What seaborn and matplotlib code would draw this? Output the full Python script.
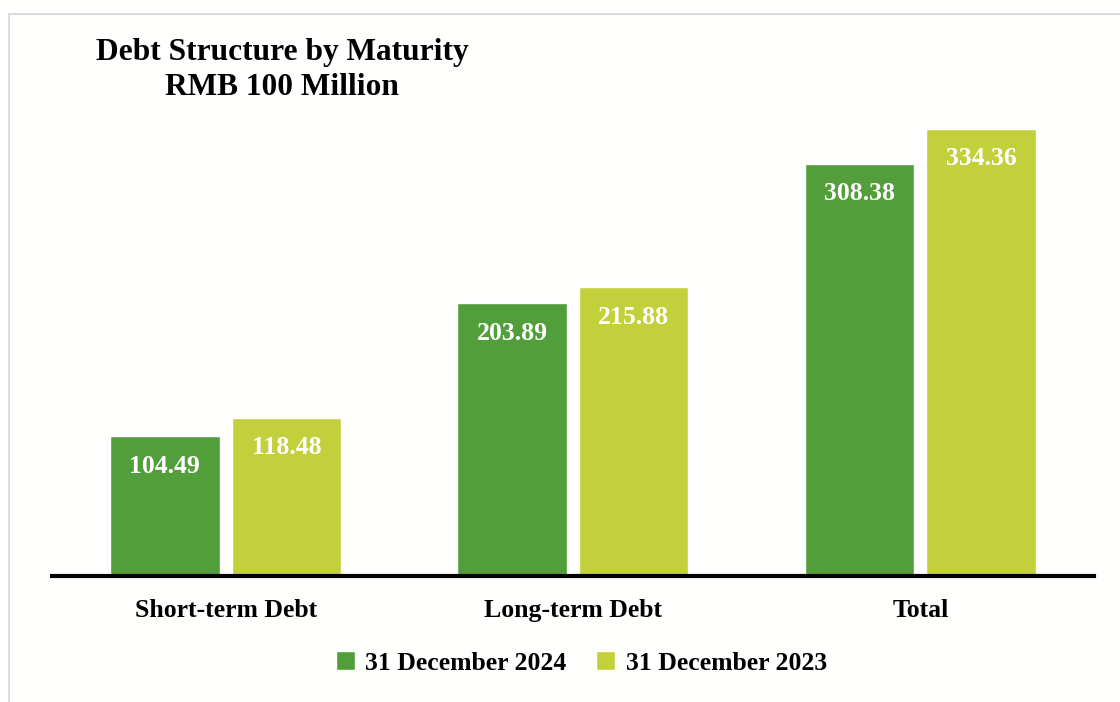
import matplotlib
matplotlib.use("Agg")
import matplotlib.pyplot as plt
import seaborn as sns
import pandas as pd
from matplotlib.patches import Rectangle

categories = ["Short-term Debt", "Long-term Debt", "Total"]
series_names = ["31 December 2024", "31 December 2023"]
values_2024 = [104.49, 203.89, 308.38]
values_2023 = [118.48, 215.88, 334.36]
colors = ["#529e3a", "#c2d03b"]

df = pd.DataFrame({
    "category": categories * 2,
    "period": [series_names[0]] * 3 + [series_names[1]] * 3,
    "value": values_2024 + values_2023,
})

sns.set_style("white")
plt.rcParams["font.family"] = ["Liberation Serif", "DejaVu Serif"]
plt.rcParams["text.color"] = "black"
plt.rcParams["xtick.color"] = "black"

fig = plt.figure(figsize=(11.2, 7.02), dpi=100)
fig.patch.set_facecolor("#fffffd")
ax = fig.add_axes([0.0464, 0.1795, 0.9304, 0.678])
ax.set_facecolor("none")

sns.barplot(data=df, x="category", y="value", hue="period", palette=colors,
            width=0.7, gap=0.1, saturation=1, ax=ax, legend=True)

for container in ax.containers:
    labels = [f"{v:.2f}" for v in container.datavalues]
    for bar, lab in zip(container, labels):
        ax.annotate(lab, (bar.get_x() + bar.get_width() / 2, bar.get_height()),
                    xytext=(0, -21.5), textcoords="offset points",
                    ha="center", va="center", color="white",
                    fontsize=18.5, fontweight="bold")

ax.set_xlim(-0.5, 2.5)
ax.set_ylim(0, 356)
ax.set_xlabel("")
ax.set_ylabel("")
ax.set_yticks([])
for s in ["top", "right", "left"]:
    ax.spines[s].set_visible(False)
ax.spines["bottom"].set_linewidth(3)
ax.spines["bottom"].set_color("black")
ax.tick_params(axis="x", length=0, pad=16.5, labelsize=18.5, labelcolor="black")
for t in ax.get_xticklabels():
    t.set_fontweight("bold")

leg = ax.legend(loc="upper center", bbox_to_anchor=(0.508, -0.11), ncol=2,
                frameon=False, handlelength=0.75, handleheight=0.75,
                handletextpad=0.4, columnspacing=1.15,
                prop={"weight": "bold", "size": 18.5})
for t in leg.get_texts():
    t.set_color("black")

fig.text(0.252, 0.900, "Debt Structure by Maturity\nRMB 100 Million",
         ha="center", va="center", fontsize=22.6, fontweight="bold",
         linespacing=1.3, color="black")

fig.patches.append(Rectangle((9 / 1120, -0.1), 1.2, 1 - 14 / 702 + 0.1,
                             transform=fig.transFigure, fill=False,
                             edgecolor="#dcdcdc", linewidth=1.5))

fig.savefig("out.png", dpi=100)
